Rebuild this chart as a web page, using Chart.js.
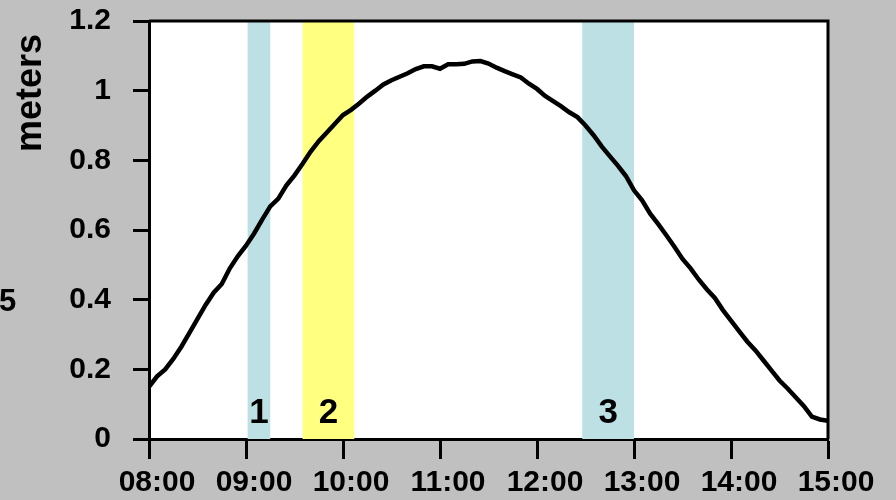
<!DOCTYPE html>
<html>
<head>
<meta charset="utf-8">
<script src="https://cdn.jsdelivr.net/npm/chart.js@4.4.1/dist/chart.umd.min.js"></script>
<style>
  html, body { margin: 0; padding: 0; background: #c0c0c0; }
  #wrap { width: 896px; height: 500px; position: relative; }
</style>
</head>
<body>
<div id="wrap"><canvas id="c" width="896" height="500"></canvas></div>
<script>
// Sample times (5-minute readings) and measured heights in meters
const times = [
  '08:00','08:05','08:10','08:15','08:20','08:25','08:30','08:35','08:40','08:45','08:50','08:55',
  '09:00','09:05','09:10','09:15','09:20','09:25','09:30','09:35','09:40','09:45','09:50','09:55',
  '10:00','10:05','10:10','10:15','10:20','10:25','10:30','10:35','10:40','10:45','10:50','10:55',
  '11:00','11:05','11:10','11:15','11:20','11:25','11:30','11:35','11:40','11:45','11:50','11:55',
  '12:00','12:05','12:10','12:15','12:20','12:25','12:30','12:35','12:40','12:45','12:50','12:55',
  '13:00','13:05','13:10','13:15','13:20','13:25','13:30','13:35','13:40','13:45','13:50','13:55',
  '14:00','14:05','14:10','14:15','14:20','14:25','14:30','14:35','14:40','14:45','14:50','14:55',
  '15:00'
];
const heights = [
  0.150,0.180,0.200,0.230,0.265,0.305,0.345,0.385,0.420,0.445,0.490,0.525,
  0.555,0.590,0.630,0.668,0.690,0.728,0.757,0.790,0.825,0.855,0.880,0.905,
  0.930,0.945,0.963,0.983,1.000,1.018,1.030,1.040,1.050,1.062,1.070,1.070,
  1.063,1.076,1.076,1.077,1.084,1.085,1.078,1.066,1.056,1.047,1.038,1.020,
  1.005,0.985,0.970,0.955,0.938,0.924,0.900,0.872,0.840,0.812,0.785,0.755,
  0.714,0.685,0.647,0.617,0.585,0.552,0.517,0.490,0.458,0.430,0.405,0.370,
  0.340,0.310,0.280,0.255,0.226,0.197,0.168,0.145,0.120,0.095,0.064,0.056,
  0.052
];

// Hour tick labels on the time axis
const xTickLabels = ['08:00','09:00','10:00','11:00','12:00','13:00','14:00','15:00'];

// Highlighted intervals
const bandStart  = ['09:01','09:35','12:28'];
const bandEnd    = ['09:15','10:07','13:00'];
const bandNames  = ['1','2','3'];
const bandColors = ['#bce0e3','#ffff80','#bce0e3'];
const bandLabelY = [0.075, 0.075, 0.075];

const ORIGIN = 8 * 60;
function toMin(t) {
  const [h, m] = t.split(':').map(Number);
  return h * 60 + m - ORIGIN;
}

const points = times.map((t, i) => ({ x: toMin(t), y: heights[i] }));

const FONT = "'Liberation Sans', Arial, Helvetica, sans-serif";

const bandsPlugin = {
  id: 'bands',
  beforeDraw(chart) {
    const { ctx, chartArea } = chart;
    ctx.save();
    ctx.fillStyle = '#ffffff';
    ctx.fillRect(chartArea.left, chartArea.top, chartArea.right - chartArea.left, chartArea.bottom - chartArea.top);
    ctx.restore();
  },
  beforeDatasetsDraw(chart) {
    const { ctx, chartArea, scales } = chart;
    ctx.save();
    bandStart.forEach((s, i) => {
      const x0 = scales.x.getPixelForValue(toMin(s));
      const x1 = scales.x.getPixelForValue(toMin(bandEnd[i]));
      ctx.fillStyle = bandColors[i];
      ctx.fillRect(x0, chartArea.top, x1 - x0, chartArea.bottom - chartArea.top);
    });
    ctx.fillStyle = '#000';
    ctx.font = 'bold 35px ' + FONT;
    ctx.textAlign = 'center';
    ctx.textBaseline = 'middle';
    bandStart.forEach((s, i) => {
      const xm = (scales.x.getPixelForValue(toMin(s)) + scales.x.getPixelForValue(toMin(bandEnd[i]))) / 2;
      ctx.fillText(bandNames[i], xm, scales.y.getPixelForValue(bandLabelY[i]));
    });
    ctx.restore();
  },
  afterDraw(chart) {
    const { ctx, chartArea } = chart;
    ctx.save();
    ctx.strokeStyle = '#000';
    ctx.lineWidth = 3;
    ctx.beginPath();
    ctx.moveTo(chartArea.left, chartArea.top);
    ctx.lineTo(chartArea.right, chartArea.top);
    ctx.lineTo(chartArea.right, chartArea.bottom);
    ctx.stroke();
    // axis title and side marker
    ctx.fillStyle = '#000';
    ctx.font = 'bold 36px ' + FONT;
    ctx.textAlign = 'center';
    ctx.textBaseline = 'middle';
    ctx.translate(31, 93);
    ctx.rotate(-Math.PI / 2);
    ctx.fillText('meters', 0, 0);
    ctx.setTransform(1, 0, 0, 1, 0, 0);
    ctx.font = 'bold 31px ' + FONT;
    ctx.textAlign = 'left';
    ctx.fillText('5', -1, 302);
    ctx.restore();
  }
};

new Chart(document.getElementById('c'), {
  type: 'line',
  data: {
    datasets: [{
      data: points,
      borderColor: '#000',
      borderWidth: 4.5,
      pointRadius: 0,
      tension: 0,
      fill: false
    }]
  },
  options: {
    responsive: false,
    animation: false,
    devicePixelRatio: 1,
    layout: { padding: { top: 21, right: 68, left: 0, bottom: 0 } },
    plugins: { legend: { display: false }, tooltip: { enabled: false } },
    scales: {
      x: {
        type: 'linear',
        min: 0,
        max: 420,
        afterFit(scale) {
          scale.height = 61;
          scale.paddingLeft = 0;
          scale.paddingRight = 0;
        },
        afterBuildTicks(scale) {
          scale.ticks = xTickLabels.map(l => ({ value: toMin(l) }));
        },
        border: { display: true, color: '#000', width: 3 },
        grid: { drawOnChartArea: false, drawTicks: true, tickLength: 20, tickWidth: 3, tickColor: '#000' },
        ticks: {
          color: '#000',
          font: { family: FONT, size: 30, weight: 'bold' },
          padding: 6,
          labelOffset: 8,
          maxRotation: 0,
          autoSkip: false,
          callback: (v) => xTickLabels[Math.round(v / 60)]
        }
      },
      y: {
        min: 0,
        max: 1.2,
        afterFit(scale) {
          scale.width = 149;
          scale.paddingTop = 0;
          scale.paddingBottom = 0;
        },
        border: { display: true, color: '#000', width: 3 },
        grid: { drawOnChartArea: false, drawTicks: true, tickLength: 16, tickWidth: 3, tickColor: '#000' },
        ticks: {
          stepSize: 0.2,
          color: '#000',
          padding: 22,
          font: { family: FONT, size: 30, weight: 'bold' },
          callback: (v) => String(Math.round(v * 10) / 10)
        }
      }
    }
  },
  plugins: [bandsPlugin]
});
</script>
</body>
</html>
